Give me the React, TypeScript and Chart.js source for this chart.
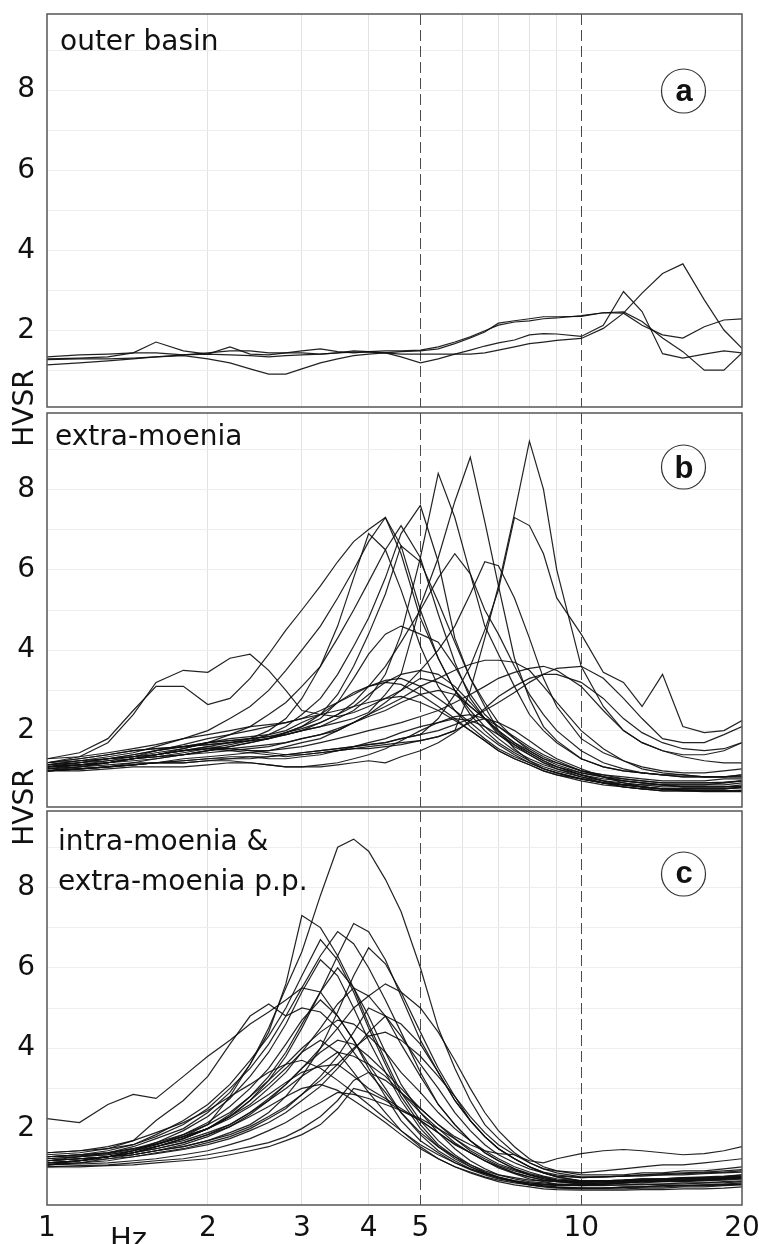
import React, { useEffect, useRef } from 'react';
import { Chart, registerables } from 'chart.js';

Chart.register(...registerables);

// ---------- shared axes ----------
const freqHz = [1, 1.15, 1.3, 1.45, 1.6, 1.8, 2, 2.2, 2.4, 2.6, 2.8, 3, 3.25, 3.5, 3.75, 4, 4.3, 4.6, 5, 5.4, 5.8, 6.2, 6.6, 7, 7.5, 8, 8.5, 9, 10, 11, 12, 13, 14.2, 15.5, 17, 18.5, 20];
const xTickValues = [1, 2, 3, 4, 5, 6, 7, 8, 9, 10, 20];
const xTickLabels = [1, 2, 3, 4, 5, 10, 20];
const xFaintGrid = [2, 3, 4, 6, 7, 8, 9];
const dashedFreqs = [5, 10];
const yTickValues = [1, 2, 3, 4, 5, 6, 7, 8, 9];
const yTickLabels = [2, 4, 6, 8];

// ---------- panel a : outer basin ----------
const a1 = [1.15,1.2,1.25,1.3,1.35, 1.4,1.42,1.4,1.38,1.35, 1.38,1.4,1.42,1.45,1.47, 1.47,1.45,1.42,1.42,1.42, 1.42,1.42,1.45,1.52,1.6, 1.68,1.72,1.76,1.81,2.06, 2.44,2.94,3.43,3.67,2.77, 2.02,1.56];
const a2 = [1.3,1.32,1.35,1.45,1.72, 1.5,1.42,1.6,1.42,1.4, 1.45,1.45,1.42,1.45,1.5, 1.48,1.45,1.35,1.2,1.3, 1.42,1.52,1.62,1.7,1.77, 1.9,1.93,1.92,1.86,2.14, 2.98,2.48,1.43,1.32,1.42, 1.5,1.45];
const a3 = [1.35,1.4,1.42,1.45,1.45, 1.4,1.45,1.5,1.5,1.45, 1.45,1.5,1.55,1.48,1.45, 1.48,1.5,1.5,1.52,1.6, 1.72,1.85,2.0,2.14,2.22, 2.25,2.3,2.32,2.38,2.45, 2.44,2.14,1.9,1.82,2.1, 2.27,2.3];
const a4 = [1.28,1.3,1.3,1.32,1.35, 1.38,1.3,1.2,1.05,0.92, 0.92,1.05,1.2,1.3,1.38, 1.42,1.45,1.48,1.5,1.55, 1.68,1.82,1.97,2.19,2.25, 2.3,2.35,2.35,2.36,2.45, 2.47,2.23,1.82,1.48,1.02, 1.02,1.45];

// ---------- panel b : extra-moenia ----------
const b1 = [1.1,1.2,1.3,1.35,1.4, 1.5,1.55,1.5,1.45,1.4, 1.35,1.4,1.45,1.5,1.55, 1.55,1.6,1.65,1.75,1.85, 2.0,3.0,4.3,5.6,7.4, 9.2,8.0,6.0,3.6,2.6, 2.0,1.7,1.5,1.4,1.4, 1.5,1.7];
const b2 = [1.2,1.3,1.4,1.5,1.55, 1.6,1.7,1.75,1.8,1.85, 1.9,2.0,2.1,2.2,2.3, 2.45,2.9,3.4,5.1,6.3, 7.7,8.8,7.2,5.6,3.8, 2.8,2.1,1.75,1.3,1.1, 1.0,0.95,0.9,0.85,0.85, 0.85,0.9];
const b3 = [1.15,1.25,1.3,1.4,1.5, 1.6,1.65,1.7,1.75,1.8, 1.9,2.0,2.1,2.3,2.5, 2.8,3.4,4.4,6.3,8.4, 7.3,5.9,4.6,3.9,3.1, 2.4,2.0,1.7,1.3,1.1, 1.0,0.95,0.9,0.9,0.85, 0.85,0.85];
const b4 = [1.05,1.15,1.2,1.3,1.35, 1.45,1.55,1.65,1.75,1.9, 2.1,2.4,2.8,3.4,4.1, 4.8,5.8,6.9,7.6,6.2, 4.3,3.3,2.6,2.0,1.55, 1.25,1.05,0.95,0.8,0.7, 0.65,0.65,0.65,0.65,0.65, 0.7,0.75];
const b5 = [1.0,1.05,1.1,1.15,1.2, 1.25,1.3,1.3,1.35,1.35, 1.4,1.45,1.5,1.55,1.6, 1.65,1.7,1.8,1.9,2.3, 2.9,3.6,4.5,5.5,7.3, 7.1,6.4,5.3,4.4,3.45, 3.2,2.6,3.4,2.1,1.95, 2.0,2.25];
const b6 = [1.2,1.35,1.7,2.4,3.2, 3.5,3.45,3.8,3.9,3.5, 3.0,2.5,2.4,2.35,2.45, 2.6,2.8,3.0,3.3,3.2, 3.0,2.6,2.3,2.0,1.7, 1.5,1.3,1.2,1.0,0.9, 0.85,0.8,0.75,0.75,0.75, 0.8,0.8];
const b7 = [1.3,1.45,1.8,2.5,3.1, 3.1,2.65,2.8,3.3,3.9, 4.5,5.0,5.6,6.2,6.7, 7.0,7.3,6.4,4.8,3.8, 3.0,2.5,2.1,1.8,1.5, 1.3,1.15,1.05,0.9,0.8, 0.75,0.7,0.65,0.6,0.6, 0.6,0.65];
const b8 = [1.1,1.15,1.2,1.3,1.35, 1.4,1.5,1.6,1.7,1.8, 1.95,2.1,2.3,2.7,3.3, 3.9,4.4,4.6,4.4,4.2, 3.6,2.9,2.4,2.1,1.8, 1.55,1.35,1.2,1.0,0.9, 0.8,0.75,0.7,0.7,0.7, 0.7,0.75];
const b9 = [1.15,1.25,1.35,1.45,1.6, 1.8,2.0,2.3,2.6,3.0, 3.5,4.0,4.6,5.3,6.0, 6.7,7.3,6.6,5.0,3.8, 3.0,2.4,2.0,1.7,1.45, 1.25,1.1,1.0,0.85,0.75, 0.7,0.65,0.6,0.6,0.6, 0.6,0.62];
const b10 = [1.05,1.1,1.2,1.3,1.4, 1.55,1.7,1.9,2.1,2.4, 2.7,3.1,3.6,4.3,5.0, 5.7,6.5,7.1,6.3,4.9, 3.7,2.8,2.3,1.9,1.6, 1.4,1.2,1.1,0.95,0.85, 0.8,0.75,0.7,0.7,0.7, 0.72,0.75];
const b11 = [1.1,1.15,1.2,1.3,1.4, 1.5,1.6,1.7,1.8,2.0, 2.3,2.8,3.6,4.6,5.8, 6.9,6.5,5.5,4.1,3.1, 2.5,2.1,1.8,1.55,1.35, 1.2,1.05,0.95,0.8,0.7, 0.6,0.55,0.5,0.5,0.5, 0.5,0.52];
const b12 = [1.0,1.05,1.1,1.2,1.3, 1.4,1.5,1.6,1.7,1.8, 1.95,2.1,2.4,2.9,3.6, 4.4,5.4,6.6,6.2,5.2, 4.2,3.3,2.7,2.2,1.8, 1.5,1.3,1.15,0.95,0.85, 0.75,0.7,0.65,0.65,0.65, 0.65,0.7];
const b13 = [1.1,1.15,1.2,1.3,1.35, 1.4,1.45,1.5,1.55,1.6, 1.7,1.8,1.9,2.0,2.2, 2.4,2.7,3.0,3.5,4.0, 4.6,5.4,6.2,6.1,5.3, 4.3,3.3,2.6,1.8,1.45, 1.25,1.1,1.0,0.95,0.95, 1.0,1.05];
const b14 = [1.2,1.25,1.3,1.4,1.5, 1.6,1.7,1.75,1.8,1.85, 1.95,2.05,2.2,2.4,2.7, 3.1,3.6,4.2,5.0,5.8, 6.4,5.9,5.0,4.4,3.6, 2.9,2.4,2.0,1.5,1.2, 1.05,0.95,0.9,0.85,0.85, 0.85,0.9];
const b15 = [1.2,1.3,1.4,1.5,1.55, 1.6,1.65,1.7,1.75,1.8, 1.9,2.0,2.2,2.4,2.6, 2.9,3.2,3.4,3.5,3.4, 3.1,2.7,2.3,1.95,1.65, 1.4,1.2,1.05,0.85,0.7, 0.6,0.55,0.5,0.5,0.5, 0.5,0.5];
const b16 = [1.1,1.2,1.3,1.35,1.45, 1.55,1.7,1.8,1.85,1.9, 2.0,2.2,2.4,2.7,2.95, 3.1,3.2,3.15,2.9,2.6, 2.3,2.0,1.75,1.5,1.3, 1.15,1.0,0.9,0.75,0.65, 0.6,0.55,0.55,0.55,0.55, 0.55,0.6];
const b17 = [1.0,1.1,1.2,1.25,1.3, 1.4,1.5,1.55,1.6,1.65, 1.7,1.8,1.9,2.05,2.2, 2.35,2.5,2.7,2.9,3.0, 2.9,2.6,2.3,2.0,1.7, 1.45,1.25,1.1,0.9,0.75, 0.65,0.6,0.55,0.55,0.55, 0.55,0.58];
const b18 = [1.3,1.35,1.45,1.55,1.65, 1.8,1.9,2.0,2.1,2.15, 2.2,2.3,2.4,2.5,2.6, 2.7,2.8,2.85,2.7,2.5, 2.25,2.0,1.75,1.5,1.3, 1.15,1.0,0.9,0.8,0.7, 0.65,0.6,0.55,0.55,0.55, 0.55,0.58];
const b19 = [1.1,1.15,1.25,1.35,1.5, 1.65,1.8,1.9,2.0,2.1, 2.2,2.3,2.5,2.7,2.9, 3.1,3.25,3.3,3.1,2.8, 2.5,2.2,1.9,1.65,1.4, 1.2,1.05,0.95,0.8,0.7, 0.65,0.6,0.55,0.52,0.5, 0.5,0.5];
const b20 = [1.0,1.05,1.1,1.15,1.2, 1.3,1.35,1.4,1.45,1.5, 1.6,1.7,1.8,2.0,2.2, 2.4,2.6,2.8,3.1,3.3, 3.5,3.65,3.75,3.75,3.7, 3.5,3.1,2.7,2.0,1.55, 1.25,1.05,0.95,0.9,0.85, 0.85,0.85];
const b21 = [1.15,1.2,1.3,1.35,1.4, 1.5,1.6,1.55,1.5,1.5, 1.55,1.6,1.7,1.8,1.9, 2.0,2.1,2.2,2.35,2.5, 2.7,2.9,3.1,3.3,3.45, 3.55,3.6,3.5,3.1,2.5, 2.0,1.7,1.5,1.35,1.25, 1.2,1.2];
const b22 = [1.0,1.05,1.1,1.15,1.2, 1.2,1.25,1.3,1.3,1.35, 1.4,1.45,1.5,1.55,1.6, 1.65,1.7,1.8,1.9,2.0, 2.15,2.3,2.5,2.7,2.95, 3.2,3.4,3.55,3.6,3.3, 2.8,2.3,1.8,1.7,1.7, 1.9,2.1];
const b23 = [1.05,1.1,1.15,1.2,1.2, 1.2,1.25,1.25,1.2,1.15, 1.1,1.1,1.1,1.15,1.2, 1.25,1.2,1.35,1.5,1.7, 1.95,2.25,2.55,2.85,3.1, 3.3,3.4,3.4,3.2,2.8, 2.3,1.95,1.7,1.55,1.5, 1.55,1.7];
const b24 = [1.0,1.0,1.05,1.1,1.1, 1.1,1.15,1.2,1.2,1.15, 1.1,1.1,1.15,1.2,1.3, 1.4,1.55,1.75,2.0,2.2, 2.35,2.4,2.3,2.1,1.85, 1.6,1.4,1.25,1.0,0.85, 0.75,0.7,0.65,0.6,0.6, 0.6,0.6];
const b25 = [1.0,1.05,1.1,1.15,1.2, 1.25,1.3,1.35,1.35,1.3, 1.3,1.35,1.4,1.5,1.55, 1.6,1.65,1.7,1.75,1.85, 2.0,2.2,2.3,2.2,2.0, 1.75,1.5,1.3,1.05,0.85, 0.7,0.6,0.55,0.5,0.48, 0.48,0.48];
const b26 = [1.15,1.2,1.25,1.3,1.4, 1.5,1.55,1.55,1.5,1.45, 1.4,1.4,1.45,1.5,1.6, 1.7,1.8,1.95,2.1,2.2, 2.3,2.25,2.1,1.9,1.65, 1.45,1.25,1.1,0.9,0.75, 0.65,0.6,0.55,0.52,0.5, 0.5,0.5];

// ---------- panel c : intra-moenia & extra-moenia p.p. ----------
const c1 = [1.3,1.35,1.4,1.5,1.6, 1.8,2.1,2.8,3.6,4.5, 5.5,6.4,7.8,9.0,9.2, 8.9,8.2,7.4,6.0,4.5, 3.5,2.7,2.1,1.75,1.4, 1.15,1.0,0.95,0.9,0.95, 1.0,1.05,1.1,1.1,1.15, 1.2,1.25];
const c2 = [1.2,1.3,1.4,1.55,1.75, 2.0,2.4,2.9,3.6,4.4, 5.6,7.3,7.0,6.3,5.5, 4.8,3.9,3.1,2.4,1.9, 1.5,1.2,1.0,0.85,0.75, 0.68,0.65,0.62,0.62,0.65, 0.68,0.7,0.7,0.72,0.75, 0.75,0.78];
const c3 = [1.1,1.2,1.3,1.4,1.55, 1.75,2.0,2.3,2.7,3.2, 3.8,4.5,5.4,6.3,7.1, 6.9,6.2,5.3,4.2,3.4, 2.7,2.2,1.8,1.5,1.25, 1.05,0.9,0.8,0.7,0.7, 0.7,0.72,0.72,0.75,0.75, 0.78,0.8];
const c4 = [1.4,1.45,1.5,1.6,1.8, 2.1,2.5,3.0,3.5,4.1, 4.8,5.5,6.3,6.9,6.6, 6.0,5.2,4.4,3.4,2.6, 2.1,1.7,1.4,1.2,1.0, 0.85,0.75,0.7,0.65,0.65, 0.65,0.68,0.7,0.7,0.72, 0.75,0.78];
const c5 = [1.3,1.35,1.45,1.6,1.85, 2.2,2.6,3.1,3.7,4.3, 5.0,5.8,6.7,6.2,5.4, 4.5,3.6,2.8,2.1,1.6, 1.3,1.05,0.9,0.78,0.68, 0.6,0.55,0.52,0.5,0.5, 0.5,0.52,0.52,0.55,0.55, 0.58,0.6];
const c6 = [1.2,1.25,1.3,1.35,1.45, 1.55,1.7,1.9,2.1,2.4, 2.8,3.3,4.0,4.9,5.8, 6.5,6.1,5.4,4.4,3.5, 2.8,2.2,1.8,1.5,1.25, 1.05,0.9,0.8,0.7,0.68, 0.68,0.7,0.72,0.72,0.75, 0.75,0.78];
const c7 = [1.1,1.2,1.3,1.4,1.55, 1.75,2.0,2.35,2.8,3.3, 3.9,4.6,5.4,6.0,5.5, 4.6,3.7,2.9,2.2,1.7, 1.35,1.1,0.92,0.8,0.7, 0.62,0.58,0.55,0.52,0.52, 0.55,0.55,0.58,0.58,0.6, 0.62,0.65];
const c8 = [1.25,1.3,1.35,1.45,1.55, 1.7,1.9,2.1,2.4,2.7, 3.1,3.5,4.0,4.5,5.0, 5.3,5.6,5.4,5.0,4.4, 3.7,3.0,2.4,1.95,1.55, 1.25,1.05,0.95,0.85,0.85, 0.85,0.9,0.9,0.95,0.95, 1.0,1.05];
const c9 = [1.15,1.2,1.3,1.45,1.6, 1.85,2.15,2.55,3.0,3.5, 4.1,4.7,5.2,4.8,4.2, 3.5,2.8,2.2,1.7,1.4, 1.15,0.98,0.85,0.75,0.68, 0.62,0.6,0.58,0.58,0.6, 0.6,0.62,0.62,0.65,0.65, 0.68,0.7];
const c10 = [1.35,1.4,1.5,1.7,2.2, 2.7,3.3,4.1,4.8,5.1, 4.8,5.0,4.9,4.5,3.9, 3.4,2.9,2.4,1.9,1.55, 1.3,1.1,0.95,0.85,0.78, 0.72,0.7,0.68,0.68,0.7, 0.72,0.75,0.75,0.78,0.8, 0.82,0.85];
const c11 = [1.1,1.15,1.2,1.3,1.4, 1.5,1.65,1.8,2.0,2.25, 2.5,2.85,3.3,3.8,4.4, 5.0,4.8,4.3,3.6,3.0, 2.4,1.95,1.6,1.35,1.15, 1.0,0.9,0.82,0.78,0.8, 0.82,0.85,0.85,0.88,0.9, 0.92,0.95];
const c12 = [1.3,1.35,1.4,1.5,1.65, 1.85,2.1,2.4,2.8,3.2, 3.6,4.0,4.4,4.7,4.6, 4.3,3.9,3.4,2.9,2.4, 2.0,1.7,1.45,1.25,1.05, 0.92,0.82,0.75,0.7,0.7, 0.7,0.72,0.72,0.75,0.75, 0.78,0.8];
const c13 = [1.2,1.25,1.3,1.35,1.45, 1.55,1.7,1.85,2.05,2.3, 2.55,2.85,3.2,3.6,4.0, 4.3,4.4,4.2,3.8,3.3, 2.8,2.3,1.9,1.6,1.35, 1.15,1.0,0.9,0.8,0.8, 0.82,0.82,0.85,0.85,0.88, 0.9,0.92];
const c14 = [1.15,1.2,1.3,1.4,1.55, 1.75,2.0,2.3,2.7,3.1, 3.5,3.9,4.2,3.9,3.4, 2.9,2.4,1.95,1.55,1.25, 1.05,0.9,0.78,0.68,0.6, 0.55,0.5,0.48,0.47,0.47, 0.47,0.48,0.48,0.5,0.5, 0.52,0.55];
const c15 = [1.1,1.15,1.25,1.35,1.45, 1.6,1.8,2.05,2.35,2.7, 3.0,3.3,3.6,3.9,3.8, 3.6,3.3,2.9,2.4,2.0, 1.65,1.4,1.2,1.02,0.88, 0.75,0.68,0.62,0.58,0.58, 0.6,0.6,0.62,0.62,0.65, 0.65,0.68];
const c16 = [1.4,1.45,1.55,1.7,1.9, 2.15,2.45,2.8,3.1,3.4, 3.6,3.7,3.5,3.2,2.9, 2.6,2.25,1.95,1.6,1.35, 1.15,1.0,0.88,0.78,0.7, 0.65,0.62,0.6,0.6,0.62, 0.65,0.68,0.68,0.7,0.72, 0.75,0.78];
const c17 = [1.05,1.08,1.1,1.15,1.2, 1.25,1.35,1.45,1.55,1.65, 1.8,2.0,2.3,2.7,3.2, 3.4,3.2,2.9,2.5,2.1, 1.75,1.45,1.25,1.08,0.95, 0.85,0.78,0.72,0.68,0.7, 0.72,0.72,0.75,0.75,0.78, 0.8,0.82];
const c18 = [1.05,1.05,1.08,1.1,1.15, 1.2,1.25,1.35,1.45,1.55, 1.7,1.85,2.1,2.5,3.0, 2.9,2.7,2.45,2.2,1.9, 1.6,1.4,1.2,1.05,0.9, 0.8,0.72,0.68,0.62,0.62, 0.65,0.65,0.68,0.68,0.7, 0.72,0.75];
const c19 = [1.2,1.25,1.3,1.4,1.5, 1.65,1.85,2.05,2.3,2.55, 2.8,3.0,3.1,2.95,2.7, 2.45,2.15,1.85,1.5,1.25, 1.05,0.92,0.8,0.72,0.65, 0.6,0.56,0.54,0.52,0.52, 0.54,0.55,0.55,0.58,0.58, 0.6,0.62];
const c20 = [1.1,1.12,1.15,1.2,1.25, 1.35,1.45,1.6,1.75,1.95, 2.15,2.4,2.65,2.9,2.85, 2.75,2.6,2.45,2.25,2.0, 1.75,1.5,1.3,1.12,0.98, 0.85,0.76,0.7,0.65,0.68, 0.7,0.72,0.72,0.75,0.75, 0.78,0.8];
const c21 = [2.25,2.15,2.6,2.85,2.75, 3.3,3.8,4.2,4.6,4.9, 5.2,5.5,5.4,4.8,4.2, 3.6,3.0,2.4,1.85,1.45, 1.2,1.0,0.88,0.78,0.7, 0.65,0.62,0.6,0.6,0.62, 0.65,0.68,0.7,0.72,0.72, 0.75,0.78];
const c22 = [1.15,1.2,1.25,1.3,1.38, 1.48,1.6,1.75,1.95,2.15, 2.4,2.7,3.05,3.5,3.95, 4.4,4.8,4.6,4.1,3.4, 2.7,2.2,1.8,1.5,1.25, 1.05,0.92,0.85,0.78,0.8, 0.82,0.85,0.88,0.9,0.92, 0.95,0.98];
const c23 = [1.3,1.32,1.38,1.48,1.62, 1.8,2.0,2.25,2.55,2.85, 3.15,3.4,3.55,3.6,3.3, 3.0,2.75,2.5,2.2,1.9, 1.62,1.4,1.2,1.05,0.9, 0.8,0.72,0.68,0.64,0.65, 0.68,0.7,0.7,0.72,0.72, 0.75,0.75];
const c24 = [1.2,1.25,1.3,1.4,1.5, 1.65,1.85,2.1,2.4,2.75, 3.1,3.5,3.9,4.2,4.1, 3.8,3.4,3.0,2.5,2.1, 1.8,1.6,1.45,1.38,1.35, 1.2,1.15,1.25,1.38,1.45, 1.48,1.45,1.4,1.35,1.38, 1.45,1.55];
const c25 = [1.25,1.3,1.35,1.45,1.6, 1.8,2.0,2.3,2.6,3.0, 3.4,3.9,4.5,5.1,5.5, 5.3,4.8,4.1,3.3,2.6, 2.1,1.7,1.4,1.2,1.0, 0.88,0.8,0.72,0.68,0.7, 0.72,0.75,0.75,0.78,0.78, 0.8,0.85];
const c26 = [1.15,1.2,1.3,1.45,1.65, 1.95,2.3,2.75,3.3,3.9, 4.6,5.4,6.2,5.8,5.0, 4.2,3.4,2.7,2.0,1.55, 1.25,1.05,0.9,0.78,0.68, 0.6,0.56,0.54,0.52,0.52, 0.54,0.55,0.58,0.58,0.6, 0.6,0.62];

const outerBasinCurves = [a1, a2, a3, a4];
const extraMoeniaCurves = [b1, b2, b3, b4, b5, b6, b7, b8, b9, b10, b11, b12, b13, b14, b15, b16, b17, b18, b19, b20, b21, b22, b23, b24, b25, b26];
const intraMoeniaCurves = [c1, c2, c3, c4, c5, c6, c7, c8, c9, c10, c11, c12, c13, c14, c15, c16, c17, c18, c19, c20, c21, c22, c23, c24, c25, c26];

const panelTitles = [['outer basin'], ['extra-moenia'], ['intra-moenia &', 'extra-moenia p.p.']];
const panelLetters = ['a', 'b', 'c'];

const FONT = '"DejaVu Sans", "Noto Sans", sans-serif';

type PanelCfg = {
  key: string;
  curves: number[][];
  titles: string[];
  letter: string;
  top: number;
  height: number;
  padTop: number;
  padBottom: number;
  xAxisH: number;
  showX: boolean;
  titleX: number;
  titleBase: number[];
  circleY: number;
  letterBase: number;
};

const PANELS: PanelCfg[] = [
  { key: 'a', curves: outerBasinCurves, titles: panelTitles[0], letter: panelLetters[0], top: 0, height: 410, padTop: 14, padBottom: 3, xAxisH: 0, showX: false, titleX: 60, titleBase: [50], circleY: 91, letterBase: 101 },
  { key: 'b', curves: extraMoeniaCurves, titles: panelTitles[1], letter: panelLetters[1], top: 410, height: 400, padTop: 3, padBottom: 3, xAxisH: 0, showX: false, titleX: 55, titleBase: [35], circleY: 57, letterBase: 68 },
  { key: 'c', curves: intraMoeniaCurves, titles: panelTitles[2], letter: panelLetters[2], top: 810, height: 434, padTop: 1, padBottom: 0, xAxisH: 39, showX: true, titleX: 58, titleBase: [40, 80], circleY: 64, letterBase: 73 },
];

function makeDecor(cfg: PanelCfg) {
  return {
    id: 'decor_' + cfg.key,
    beforeDatasetsDraw(chart: any) {
      const { ctx, chartArea, scales } = chart;
      ctx.save();
      ctx.strokeStyle = '#4a4a4a';
      ctx.lineWidth = 1;
      ctx.setLineDash([11, 5]);
      for (const f of dashedFreqs) {
        const px = Math.round(scales.x.getPixelForValue(f)) + 0.5;
        ctx.beginPath();
        ctx.moveTo(px, chartArea.top);
        ctx.lineTo(px, chartArea.bottom);
        ctx.stroke();
      }
      ctx.restore();
    },
    afterDraw(chart: any) {
      const { ctx, chartArea } = chart;
      const { left, top, right, bottom } = chartArea;
      ctx.save();
      ctx.setLineDash([]);
      ctx.strokeStyle = '#555';
      ctx.lineWidth = 1.5;
      ctx.strokeRect(left, top, right - left, bottom - top);
      ctx.fillStyle = '#111';
      ctx.font = '28px ' + FONT;
      ctx.textBaseline = 'alphabetic';
      ctx.textAlign = 'left';
      cfg.titles.forEach((t, i) => ctx.fillText(t, cfg.titleX, cfg.titleBase[i]));
      ctx.beginPath();
      ctx.lineWidth = 1.2;
      ctx.strokeStyle = '#333';
      ctx.arc(683.5, cfg.circleY, 22, 0, Math.PI * 2);
      ctx.stroke();
      ctx.font = 'bold 31px "Liberation Sans", Arial, sans-serif';
      ctx.textAlign = 'center';
      ctx.fillText(cfg.letter, 684, cfg.letterBase);
      if (cfg.showX) {
        ctx.textAlign = 'left';
        ctx.font = '29px ' + FONT;
        ctx.fillText('Hz', 110, 438);
      }
      ctx.restore();
    },
  };
}

function Panel({ cfg }: { cfg: PanelCfg }) {
  const ref = useRef<HTMLCanvasElement>(null);
  useEffect(() => {
    if (!ref.current) return;
    const chart = new Chart(ref.current, {
      type: 'line',
      data: {
        datasets: cfg.curves.map((vals, i) => ({
          label: cfg.key + (i + 1),
          data: vals.map((v, j) => ({ x: freqHz[j], y: v })),
          borderColor: 'rgba(15,15,15,0.92)',
          borderWidth: 1.2,
          pointRadius: 0,
          tension: 0,
          fill: false,
        })),
      },
      options: {
        responsive: false,
        animation: false,
        devicePixelRatio: 1,
        layout: { padding: { left: 0, right: 17, top: cfg.padTop, bottom: cfg.padBottom } },
        plugins: { legend: { display: false }, tooltip: { enabled: false } },
        scales: {
          x: {
            type: 'logarithmic',
            min: 1,
            max: 20,
            afterBuildTicks: (s: any) => { s.ticks = xTickValues.map((v) => ({ value: v })); },
            afterFit: (s: any) => { s.height = cfg.xAxisH; s.paddingLeft = 0; s.paddingRight = 0; },
            ticks: {
              display: cfg.showX,
              autoSkip: false,
              maxRotation: 0,
              padding: 7,
              color: '#111',
              font: { family: FONT, size: 28 },
              callback: (v: any) => (xTickLabels.includes(Number(v)) ? String(v) : ''),
            },
            grid: {
              drawTicks: false,
              lineWidth: 1,
              color: (ctx: any) => (ctx.tick && xFaintGrid.includes(ctx.tick.value) ? '#e2e2e2' : 'rgba(0,0,0,0)'),
            },
            border: { display: false },
          },
          y: {
            type: 'linear',
            min: 0.1,
            max: 9.9,
            afterBuildTicks: (s: any) => { s.ticks = yTickValues.map((v) => ({ value: v })); },
            afterFit: (s: any) => { s.width = 47; s.paddingTop = 0; s.paddingBottom = 0; },
            ticks: {
              autoSkip: false,
              padding: 12,
              color: '#111',
              font: { family: FONT, size: 28 },
              callback: (v: any) => (yTickLabels.includes(Number(v)) ? String(v) : ''),
            },
            grid: { drawTicks: false, color: '#eeeeee', lineWidth: 1 },
            border: { display: false },
          },
        },
      } as any,
      plugins: [makeDecor(cfg)],
    });
    return () => chart.destroy();
  }, [cfg]);
  return (
    <canvas
      ref={ref}
      width={759}
      height={cfg.height}
      style={{ position: 'absolute', left: 0, top: cfg.top, display: 'block' }}
    />
  );
}

const hvsrStyle = (centerY: number): React.CSSProperties => ({
  position: 'absolute',
  left: -26,
  top: centerY - 16,
  width: 100,
  height: 32,
  lineHeight: '32px',
  fontSize: 28,
  fontFamily: FONT,
  textAlign: 'center',
  color: '#111',
  transform: 'rotate(-90deg)',
  whiteSpace: 'nowrap',
});

export default function App() {
  return (
    <div style={{ position: 'absolute', left: 0, top: 0, width: 759, height: 1244, background: '#fff', overflow: 'hidden' }}>
      {PANELS.map((p) => (
        <Panel key={p.key} cfg={p} />
      ))}
      <div style={hvsrStyle(408)}>HVSR</div>
      <div style={hvsrStyle(807)}>HVSR</div>
    </div>
  );
}
